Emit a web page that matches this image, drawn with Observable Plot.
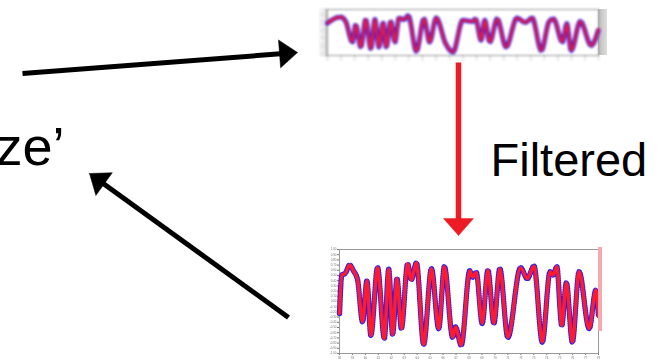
<!DOCTYPE html>
<html><head><meta charset="utf-8">
<script src="https://cdn.jsdelivr.net/npm/d3@7"></script>
<script src="https://cdn.jsdelivr.net/npm/@observablehq/plot@0.6"></script>
<style>
body{margin:0;background:#fff}
#stage{position:relative;width:664px;height:360px;overflow:hidden;background:#fff;font-family:"Liberation Sans",Arial,sans-serif}
#stage > div{position:absolute}
#main{left:0;top:0}
#raw{left:315px;top:8px;filter:blur(1px)}
#filt{left:328px;top:246px;filter:blur(0.55px)}
#rawstrip{left:598px;top:9px;width:9px;height:46px;background:linear-gradient(90deg,#bbb,#ddd);filter:blur(0.6px)}
#filtstrip{left:598px;top:247px;width:4px;height:84px;background:#f5a9ae;filter:blur(0.5px)}
</style></head>
<body>
<div id="stage">
  <div id="main"></div>
  <div id="rawstrip"></div>
  <div id="raw"></div>
  <div id="filt"></div>
  <div id="filtstrip"></div>
</div>
<script>
// ---- connectors (diagram arrows) ----
const arrowNames = ["to raw", "from filtered", "filter step"];
const arrowX1 = [22, 288, 458];
const arrowY1 = [73, 317, 62];
const arrowX2 = [297, 89, 458];
const arrowY2 = [52, 173, 235];

// ---- labels ----
const labelLeft = "ze’";
const labelFilter = "Filtered";

// ---- raw (unfiltered) signal, extrema ----
const rawT = [0, 3.1, 4.9, 6.7, 9.2, 10.4, 12.3, 14.1, 16.0, 17.5, 19.0, 20.5, 21.7, 23.3, 24.9, 26.4, 28.2, 29.8, 32.8, 35.6, 37.7, 40.1, 43.6, 46.3, 49.9, 53.4, 54.6, 56.7, 58.0, 59.9, 62.6, 65.9, 69.9, 73.0, 75.5, 78.9, 81.8, 83.4, 86.7, 88.3, 89.9, 93.3, 97.3, 100];
const rawV = [0.41, 0.63, 0.67, 0.48, -0.41, 0.33, -0.63, 0.56, -0.70, 0.56, -0.63, 0.41, -0.63, 0.48, -0.41, 0.63, 0.56, 0.73, -0.81, 0.59, -0.41, 0.63, -0.48, -0.85, 0.53, 0.48, 0.59, -0.33, 0.53, -0.41, 0.59, -0.63, 0.63, 0.44, 0.63, -0.78, 0.48, 0.59, -0.41, 0.38, -0.78, 0.48, -0.56, 0.14];

// ---- filtered signal, extrema ----
const filtT = [0, 0.9, 2.2, 3.9, 5.4, 7.0, 8.9, 10.6, 12.1, 14.7, 17.3, 19.0, 20.5, 22.2, 23.9, 26.3, 27.7, 29.7, 32.5, 35.5, 38.3, 40.5, 43.7, 44.8, 47.0, 50.3, 51.4, 52.8, 55.1, 57.3, 59.6, 61.9, 65.0, 69.9, 72.5, 75.1, 78.3, 81.3, 82.5, 83.9, 85.8, 87.6, 89.9, 92.5, 96.4, 99.0, 100];
const filtV = [-0.23, 0.51, 0.54, 0.70, 0.59, 0.41, -0.39, 0.40, -0.65, 0.65, -0.71, 0.62, -0.63, 0.44, -0.52, 0.72, 0.42, 0.74, -0.82, 0.63, -0.52, 0.67, -0.69, -0.49, -0.84, 0.59, 0.47, 0.56, -0.42, 0.60, -0.42, 0.63, -0.69, 0.65, 0.44, 0.68, -0.78, 0.57, 0.51, 0.67, -0.46, 0.36, -0.78, 0.57, -0.52, 0.22, -0.29];

// ---- axis ticks of the thumbnails ----
const xTicks = d3.range(0, 101, 5);
const yTicks = d3.range(-10, 11, 1).map(d => d / 10);

// ================= main diagram =================
const arrows = arrowNames.map((name, i) => ({name, i, x1: arrowX1[i], y1: arrowY1[i], x2: arrowX2[i], y2: arrowY2[i]}));
const arrowColor = ["#000000", "#000000", "#ed1c24"];
const headLen = [18, 18, 17], headWid = [28, 28, 30], shaftW = [5, 5, 5.5];

function geom(a) {
  const dx = a.x2 - a.x1, dy = a.y2 - a.y1, L = Math.hypot(dx, dy);
  const ux = dx / L, uy = dy / L, nx = -uy, ny = ux;
  const bx = a.x2 - ux * headLen[a.i], by = a.y2 - uy * headLen[a.i];
  const w = headWid[a.i] / 2;
  return {
    shaft: {i: a.i, x1: a.x1, y1: a.y1, x2: bx + ux * 4, y2: by + uy * 4, c: arrowColor[a.i], w: shaftW[a.i]},
    head: [
      {i: a.i, x: a.x2, y: a.y2, c: arrowColor[a.i]},
      {i: a.i, x: bx + nx * w, y: by + ny * w, c: arrowColor[a.i]},
      {i: a.i, x: bx - nx * w, y: by - ny * w, c: arrowColor[a.i]},
      {i: a.i, x: a.x2, y: a.y2, c: arrowColor[a.i]}
    ]
  };
}
const g = arrows.map(geom);
const shafts = g.map(d => d.shaft);
const heads = g.flatMap(d => d.head);

const main = Plot.plot({
  width: 664, height: 360,
  marginTop: 0, marginRight: 0, marginBottom: 0, marginLeft: 0,
  x: {domain: [0, 664], range: [0, 664], axis: null},
  y: {domain: [0, 360], range: [0, 360], axis: null},
  color: {type: "identity"},
  style: {fontFamily: "'Liberation Sans', Arial, sans-serif", background: "transparent"},
  marks: [
    Plot.link(shafts, {x1: "x1", y1: "y1", x2: "x2", y2: "y2", stroke: "c", strokeWidth: "w", strokeLinecap: "butt"}),
    Plot.line(heads, {x: "x", y: "y", z: "i", fill: "c", stroke: "c", strokeWidth: 0.5, curve: "linear"}),
    Plot.text([labelLeft], {x: () => 64, y: () => 147.7, text: d => d, textAnchor: "end", lineAnchor: "middle", fontSize: 54, fill: "#000"}),
    Plot.text([labelFilter], {x: () => 490, y: () => 160, text: d => d, textAnchor: "start", lineAnchor: "middle", fontSize: 47, fill: "#000"})
  ]
});
document.getElementById("main").append(main);

// ================= thumbnails =================
function thumb(T, V, opt) {
  const data = T.map((t, k) => ({t, v: V[k]}));
  return Plot.plot({
    width: opt.width, height: opt.height,
    marginTop: opt.mt, marginRight: opt.mr, marginBottom: opt.mb, marginLeft: opt.ml,
    style: {fontFamily: "'Liberation Sans', Arial, sans-serif", fontSize: opt.fs + "px", color: "#777", background: "transparent"},
    x: {domain: [0, 100], ticks: xTicks, tickSize: 2, tickPadding: 1, label: null, tickFormat: d => (58 + d / 5).toFixed(0)},
    y: {domain: [-1, 1], ticks: yTicks, tickSize: 2, tickPadding: 1, label: null, tickFormat: d => d.toFixed(2)},
    marks: [
      Plot.frame({stroke: "#999", strokeWidth: 1}),
      Plot.line(data, {x: "t", y: "v", curve: "monotone-x", stroke: "#2020ff", strokeWidth: opt.bw, strokeDasharray: "0.1 2.2", strokeLinecap: "round"}),
      Plot.line(data, {x: "t", y: "v", curve: "monotone-x", stroke: "#ff1a2e", strokeWidth: opt.rw, strokeOpacity: opt.ro})
    ]
  });
}

document.getElementById("raw").append(thumb(rawT, rawV, {width: 292, height: 54, mt: 1, mr: 9, mb: 7, ml: 12, fs: 2.5, bw: 5, rw: 3, ro: 0.85}));
document.getElementById("filt").append(thumb(filtT, filtV, {width: 272, height: 114, mt: 3, mr: 2, mb: 7, ml: 11, fs: 3, bw: 5.5, rw: 3.5, ro: 1}));
</script>
</body></html>
